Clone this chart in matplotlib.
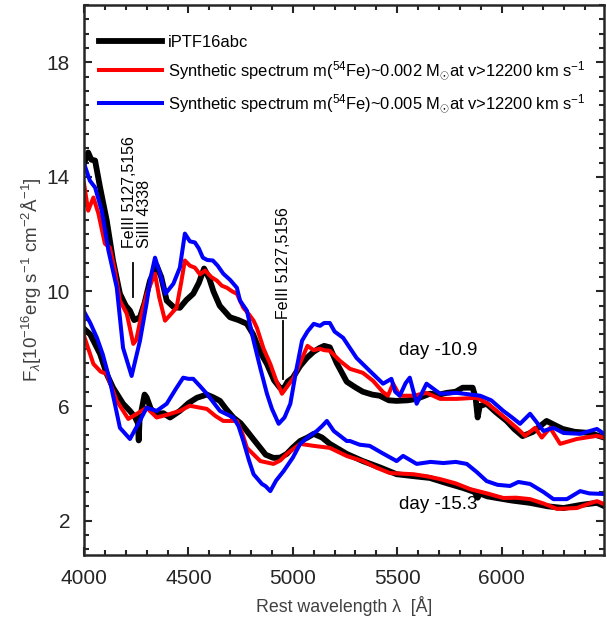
import matplotlib
matplotlib.use("Agg")
import matplotlib.pyplot as plt
from matplotlib.ticker import MultipleLocator

# day -10.9 spectra
wl_obs_a = [4000, 4020, 4035, 4053, 4077, 4109, 4139, 4172, 4200, 4220, 4240, 4268, 4290, 4316,
            4348, 4370, 4396, 4430, 4459, 4490, 4523, 4550, 4575, 4600, 4620, 4650, 4699, 4740,
            4780, 4810, 4828, 4850, 4876, 4910, 4938, 4955, 4975, 5000, 5035, 5067, 5100, 5129,
            5150, 5177, 5210, 5258, 5300, 5335, 5380, 5416, 5460, 5497, 5550, 5593, 5656, 5700,
            5737, 5780, 5813, 5861, 5875, 5885, 5895, 5928, 5970, 6024, 6060, 6100, 6150, 6215,
            6250, 6292, 6350, 6421, 6490]
fl_obs_a = [14.47, 14.85, 14.6, 14.57, 13.63, 12.47, 11.08, 9.92, 9.5, 9.33, 9.0, 9.1, 9.6, 10.38,
            10.9, 10.5, 9.68, 9.45, 9.43, 9.7, 9.92, 10.3, 10.8, 10.45, 10.0, 9.5, 9.1, 9.0,
            8.87, 8.5, 8.17, 7.8, 7.47, 6.9, 6.64, 6.6, 6.85, 6.99, 7.4, 7.68, 7.9, 8.03,
            8.1, 8.05, 7.5, 6.85, 6.65, 6.5, 6.4, 6.36, 6.2, 6.18, 6.2, 6.25, 6.43, 6.4,
            6.46, 6.5, 6.64, 6.64, 6.3, 5.6, 6.0, 6.08, 5.8, 5.48, 5.2, 4.95, 5.1, 5.48,
            5.35, 5.2, 5.1, 5.06, 4.9]

wl_red_a = [4000, 4020, 4045, 4069, 4100, 4124, 4148, 4172, 4205, 4236, 4250, 4276, 4300, 4332,
            4340, 4360, 4388, 4415, 4443, 4465, 4483, 4507, 4531, 4555, 4580, 4610, 4636, 4660,
            4684, 4710, 4732, 4763, 4790, 4812, 4828, 4860, 4892, 4920, 4948, 4975, 5004, 5040,
            5070, 5100, 5129, 5150, 5177, 5225, 5273, 5335, 5384, 5430, 5455, 5480, 5512, 5577,
            5640, 5705, 5785, 5880, 5930, 5976, 6030, 6072, 6112, 6160, 6192, 6232, 6280, 6360,
            6456, 6490]
fl_red_a = [13.77, 12.82, 13.28, 12.72, 11.67, 11.53, 10.73, 9.68, 9.22, 8.17, 8.3, 9.22, 9.9, 10.5,
            10.62, 9.8, 8.98, 9.2, 9.43, 10.3, 11.08, 10.9, 10.83, 10.6, 10.73, 10.5, 10.38, 10.2,
            10.13, 10.0, 9.92, 9.43, 9.2, 8.98, 8.73, 8.0, 7.47, 6.9, 6.43, 6.7, 6.99, 7.6,
            8.1, 7.95, 8.0, 7.95, 7.93, 7.58, 7.3, 7.16, 6.88, 6.5, 6.36, 6.78, 6.36, 6.36,
            6.46, 6.25, 6.25, 6.29, 6.1, 5.83, 5.5, 5.24, 4.96, 5.24, 4.9, 5.24, 4.68, 4.85,
            4.96, 4.9]

wl_blue_a = [4000, 4028, 4053, 4085, 4117, 4157, 4187, 4228, 4268, 4300, 4316, 4340, 4365, 4390,
             4428, 4459, 4483, 4507, 4531, 4550, 4569, 4590, 4617, 4640, 4667, 4700, 4732, 4747,
             4780, 4812, 4845, 4876, 4900, 4932, 4960, 4988, 5015, 5044, 5070, 5100, 5130, 5150,
             5177, 5200, 5241, 5305, 5368, 5432, 5472, 5490, 5512, 5540, 5560, 5593, 5640, 5705,
             5785, 5897, 5950, 6008, 6050, 6088, 6136, 6200, 6248, 6296, 6376, 6456, 6490]
fl_blue_a = [14.47, 13.87, 13.63, 12.82, 11.43, 10.13, 8.03, 7.05, 8.28, 9.6, 10.38, 11.18, 10.6, 9.92,
             10.27, 10.83, 12.02, 11.75, 11.71, 11.5, 11.18, 11.1, 11.08, 10.9, 10.62, 10.4, 10.13, 9.68,
             9.33, 8.28, 7.3, 6.43, 5.9, 5.38, 5.6, 6.08, 7.2, 8.28, 8.6, 8.87, 8.8, 8.9,
             8.9, 8.6, 8.38, 7.68, 7.23, 6.78, 6.95, 6.5, 6.36, 6.8, 6.99, 6.08, 6.78, 6.43,
             6.46, 6.36, 6.2, 5.83, 5.6, 5.38, 5.73, 5.13, 5.24, 5.06, 5.03, 5.2, 5.03]

# day -15.3 spectra
wl_obs_b = [4000, 4030, 4077, 4110, 4139, 4187, 4220, 4245, 4258, 4262, 4266, 4290, 4300, 4320,
            4348, 4380, 4412, 4459, 4500, 4541, 4588, 4620, 4651, 4680, 4715, 4750, 4780, 4810,
            4844, 4870, 4907, 4940, 4971, 5000, 5035, 5070, 5100, 5140, 5177, 5258, 5335, 5420,
            5497, 5580, 5656, 5740, 5815, 5870, 5885, 5895, 5930, 5976, 6050, 6136, 6220, 6296,
            6380, 6456, 6490]
fl_obs_b = [8.7, 8.5, 7.82, 7.1, 6.64, 6.08, 5.83, 5.6, 5.4, 4.8, 5.5, 6.4, 6.3, 5.9,
            5.73, 5.75, 5.6, 5.83, 6.1, 6.29, 6.4, 6.3, 6.18, 5.9, 5.6, 5.4, 5.13, 4.85,
            4.54, 4.3, 4.19, 4.2, 4.33, 4.55, 4.78, 4.9, 5.03, 4.9, 4.68, 4.33, 4.08, 3.85,
            3.62, 3.55, 3.49, 3.3, 3.14, 3.0, 2.8, 2.95, 2.85, 2.79, 2.7, 2.62, 2.5, 2.44,
            2.55, 2.62, 2.51]

wl_red_b = [4000, 4045, 4080, 4109, 4157, 4212, 4260, 4300, 4348, 4400, 4459, 4507, 4550, 4588,
            4630, 4667, 4732, 4760, 4780, 4844, 4907, 4940, 4971, 5035, 5100, 5177, 5260, 5335,
            5400, 5465, 5577, 5640, 5705, 5780, 5849, 5930, 6008, 6070, 6136, 6200, 6264, 6360,
            6420, 6456, 6490]
fl_red_b = [8.45, 7.47, 7.2, 7.12, 6.18, 5.55, 5.76, 5.94, 5.6, 5.7, 5.83, 6.01, 5.95, 5.9,
            5.65, 5.48, 5.48, 5.0, 4.54, 4.08, 3.98, 4.1, 4.33, 4.68, 4.61, 4.54, 4.25, 4.08,
            3.85, 3.66, 3.62, 3.55, 3.45, 3.3, 3.10, 2.95, 2.79, 2.8, 2.75, 2.6, 2.41, 2.44,
            2.6, 2.68, 2.58]

wl_blue_b = [4000, 4030, 4062, 4090, 4124, 4150, 4172, 4220, 4260, 4300, 4348, 4396, 4440, 4475,
             4500, 4523, 4555, 4588, 4651, 4715, 4740, 4763, 4790, 4812, 4852, 4870, 4892, 4920,
             4956, 5000, 5035, 5070, 5115, 5140, 5163, 5196, 5258, 5273, 5320, 5368, 5430, 5497,
             5528, 5593, 5660, 5721, 5780, 5833, 5880, 5928, 5980, 6040, 6080, 6136, 6200, 6248,
             6312, 6376, 6420, 6490]
fl_blue_b = [9.3, 8.9, 8.38, 7.8, 6.88, 6.0, 5.24, 4.85, 5.38, 5.94, 5.83, 6.08, 6.6, 6.99,
             6.95, 6.95, 6.7, 6.43, 5.83, 5.6, 5.3, 4.78, 4.1, 3.62, 3.28, 3.2, 3.03, 3.4,
             3.73, 4.2, 4.68, 4.9, 5.13, 5.3, 5.48, 5.13, 4.78, 4.78, 4.65, 4.61, 4.35, 4.08,
             4.26, 3.98, 4.05, 4.01, 4.05, 3.98, 3.7, 3.38, 3.25, 3.21, 3.35, 3.28, 3.0, 2.75,
             2.75, 3.03, 2.95, 2.93]

legend_labels = [
    "iPTF16abc",
    r"Synthetic spectrum m($^{54}$Fe)~0.002 M$_{\odot}$at v>12200 km s$^{-1}$",
    r"Synthetic spectrum m($^{54}$Fe)~0.005 M$_{\odot}$at v>12200 km s$^{-1}$",
]

plt.rcParams["font.family"] = ["Liberation Sans", "DejaVu Sans"]
plt.rcParams["mathtext.fontset"] = "custom"
plt.rcParams["mathtext.rm"] = "Liberation Sans"
plt.rcParams["mathtext.it"] = "Liberation Sans:italic"
plt.rcParams["mathtext.sf"] = "Liberation Sans"

fig = plt.figure(figsize=(6.07, 6.29), dpi=100)
ax = fig.add_axes([84 / 607, 1 - 555 / 629, 520 / 607, 550 / 629])

ax.plot(wl_obs_a, fl_obs_a, color="black", lw=4.2, label=legend_labels[0])
ax.plot(wl_obs_b, fl_obs_b, color="black", lw=4.2)
ax.plot(wl_red_a, fl_red_a, color="#ff0000", lw=2.9, label=legend_labels[1])
ax.plot(wl_red_b, fl_red_b, color="#ff0000", lw=2.9)
ax.plot(wl_blue_a, fl_blue_a, color="#0000ff", lw=2.9, label=legend_labels[2])
ax.plot(wl_blue_b, fl_blue_b, color="#0000ff", lw=2.9)

ax.set_xlim(4000, 6490)
ax.set_ylim(0.8, 20)
ax.xaxis.set_major_locator(MultipleLocator(500))
ax.xaxis.set_minor_locator(MultipleLocator(100))
ax.set_yticks([2, 6, 10, 14, 18])
ax.yaxis.set_minor_locator(MultipleLocator(0.5))
ax.tick_params(which="both", direction="in", top=True, right=True, width=1.5, colors="#262626")
ax.tick_params(which="major", length=6, labelsize=15, pad=10)
ax.tick_params(which="minor", length=3.5)
for s in ax.spines.values():
    s.set_linewidth(1.8)
    s.set_color("#262626")

ax.set_xlabel("Rest wavelength λ  [Å]", fontsize=12.8, color="#404040", labelpad=6)
ax.set_ylabel(r"F$_{\lambda}$[10$^{-16}$erg s$^{-1}$ cm$^{-2}$Å$^{-1}$]", fontsize=13.5,
              color="#404040", labelpad=2)

# line identifications
ax.text(4255, 11.5, "FeIII 5127,5156\nSiIII 4338", rotation=90, ha="center", va="bottom",
        multialignment="left", fontsize=11.5, linespacing=1.0)
ax.plot([4234, 4234], [9.8, 11.0], color="black", lw=1.3)
ax.text(4957, 9.05, "FeIII 5127,5156", rotation=90, ha="center", va="bottom", fontsize=11.5)
ax.plot([4952, 4952], [6.95, 8.98], color="black", lw=1.3)

ax.text(5694, 7.93, "day -10.9", ha="center", va="center", fontsize=13.5)
ax.text(5694, 2.55, "day -15.3", ha="center", va="center", fontsize=13.5)

ax.legend(loc="upper left", bbox_to_anchor=(-0.013, 0.985), frameon=False, fontsize=11.9,
          handlelength=3.8, handletextpad=0.4, labelspacing=0.6, borderaxespad=0.9)

fig.savefig("out.png", dpi=100)
